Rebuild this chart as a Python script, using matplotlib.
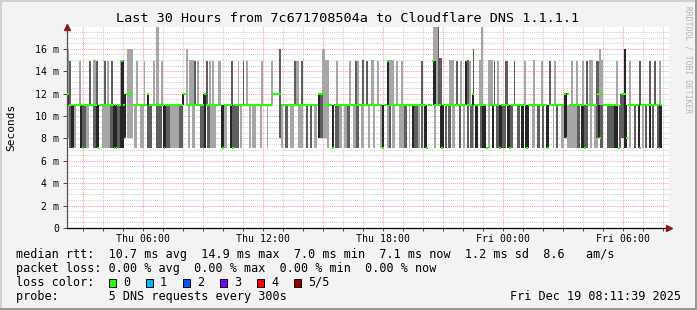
import matplotlib
matplotlib.use("Agg")
import matplotlib.pyplot as plt
from matplotlib.patches import Rectangle

plt.rcParams['font.family'] = 'DejaVu Sans Mono'

# time axis in minutes since Thu 00:00, values in ms
med_t = [133, 138, 150, 154, 177, 181, 223, 228, 273, 277,
         280, 284, 296, 301, 306, 311, 331, 373, 379, 423,
         428, 480, 493, 544, 549, 599, 604, 629, 634, 748,
         775, 886, 908, 929, 934, 1079, 1084, 1094, 1099, 1211,
         1216, 1229, 1234, 1256, 1261, 1329, 1334, 1348, 1353, 1390,
         1395, 1429, 1434, 1460, 1465, 1511, 1516, 1574, 1579, 1623,
         1630, 1634, 1638, 1684, 1689, 1723, 1730, 1735, 1740, 1786,
         1791, 1796, 1810, 1815, 1849, 1854, 1908, 1913]
med_v = [12, 11, 7.1, 11, 7.1, 11, 7.1, 11, 7.1, 11,
         7.1, 11, 14.9, 11, 8, 12, 11, 12, 11, 7.1,
         11, 12, 11, 12, 11, 7.1, 11, 7.1, 11, 12,
         11, 12, 11, 7.1, 11, 7.1, 11, 14.9, 11, 7.1,
         11, 14.9, 11, 7.1, 11, 14.9, 11, 12, 11, 7.1,
         11, 7.1, 11, 7.1, 11, 7.1, 11, 7.1, 11, 12,
         8, 12, 11, 7.1, 11, 12, 8, 12, 11, 7.1,
         11, 12, 8, 11, 7.1, 11, 7.1, 11]
med_end = 1918

# smoke above / around the median: start, end, low, high, shade
smoke_up = [
    (135, 138, 8, 16, 'L'), (133, 139, 11, 12, 'D'), (140, 145, 7.1, 14.9, 'M'),
    (170, 175, 11, 14.9, 'L'), (198, 204, 11, 14.9, 'M'), (211, 219, 11, 15, 'L'),
    (219, 225, 11, 14.9, 'M'), (244, 250, 11, 14.9, 'M'), (253, 258, 11, 14.9, 'L'),
    (265, 271, 11, 14.9, 'M'), (292, 304, 7.1, 15, 'L'), (294, 303, 7.1, 14.9, 'D'),
    (304, 310, 8, 12, 'D'), (314, 331, 8, 16, 'L'), (340, 346, 11, 14.9, 'L'),
    (364, 368, 11, 14.9, 'L'), (374, 379, 11, 12, 'D'), (390, 396, 11, 14.9, 'L'),
    (399, 409, 7.1, 18, 'L'), (414, 420, 11, 14.9, 'L'), (478, 484, 11, 12, 'D'),
    (490, 496, 11, 16, 'L'), (498, 514, 11, 15, 'L'), (514, 520, 11, 14.9, 'M'),
    (523, 529, 11, 14.9, 'L'), (542, 549, 11, 12, 'D'), (550, 557, 11, 14.9, 'M'),
    (559, 565, 11, 14.9, 'L'), (568, 574, 11, 14.9, 'L'), (586, 595, 11, 14.9, 'L'),
    (625, 631, 11, 14.9, 'M'), (646, 650, 11, 14.9, 'L'), (660, 665, 11, 14.9, 'M'),
    (669, 675, 11, 14.9, 'L'), (715, 721, 11, 14.9, 'L'), (745, 751, 11, 14.9, 'L'),
    (768, 775, 8, 16, 'M'), (814, 820, 11, 14.9, 'M'), (820, 830, 11, 14.9, 'L'),
    (836, 842, 11, 14.9, 'M'), (886, 892, 8, 12, 'D'), (888, 901, 8, 12, 'M'),
    (899, 907, 8, 16, 'L'), (907, 919, 8, 15, 'L'), (940, 946, 11, 14.9, 'L'),
    (978, 984, 11, 14.9, 'L'), (996, 1002, 11, 14.9, 'M'), (1004, 1010, 11, 14.9, 'L'),
    (1018, 1024, 11, 15, 'M'), (1030, 1036, 11, 14.9, 'M'), (1046, 1054, 11, 15, 'L'),
    (1063, 1068, 11, 14.9, 'L'), (1094, 1098, 11, 14.9, 'D'), (1098, 1113, 11, 15, 'L'),
    (1121, 1126, 11, 14.9, 'L'), (1136, 1142, 11, 14.9, 'L'), (1196, 1202, 11, 14.9, 'M'),
    (1231, 1248, 11, 18, 'L'), (1231, 1240, 11, 14.9, 'D'), (1246, 1250, 11, 18, 'M'),
    (1250, 1258, 11, 15.2, 'M'), (1280, 1294, 11, 15, 'L'), (1300, 1306, 11, 14.9, 'M'),
    (1313, 1318, 11, 14.9, 'L'), (1326, 1333, 11, 14.9, 'D'), (1333, 1340, 11, 15, 'M'),
    (1340, 1346, 11, 14.9, 'L'), (1348, 1354, 11, 12, 'D'), (1351, 1355, 11, 16, 'M'),
    (1368, 1382, 11, 15, 'L'), (1376, 1380, 11, 18, 'L'), (1396, 1410, 11, 15, 'L'),
    (1413, 1418, 11, 14.9, 'M'), (1423, 1429, 11, 14.9, 'L'), (1448, 1456, 11, 14.9, 'M'),
    (1473, 1478, 11, 14.9, 'M'), (1504, 1510, 11, 14.9, 'L'), (1530, 1538, 11, 15, 'L'),
    (1554, 1560, 11, 14.9, 'L'), (1578, 1584, 11, 14.9, 'M'), (1593, 1599, 11, 14.9, 'L'),
    (1623, 1633, 8, 12.1, 'D'), (1644, 1650, 11, 14.9, 'L'), (1660, 1666, 11, 14.9, 'L'),
    (1678, 1684, 11, 14.9, 'L'), (1690, 1696, 11, 14.9, 'M'), (1698, 1712, 11, 15, 'L'),
    (1721, 1728, 8, 14.9, 'M'), (1725, 1733, 8, 11, 'D'), (1728, 1734, 11, 16, 'L'),
    (1734, 1740, 11, 15, 'L'), (1780, 1786, 11, 14.9, 'L'), (1793, 1803, 8, 12, 'M'),
    (1803, 1810, 8, 16, 'D'), (1818, 1824, 11, 14.9, 'L'), (1848, 1854, 11, 14.9, 'M'),
    (1878, 1884, 11, 14.9, 'M'), (1893, 1900, 11, 14.9, 'M'), (1908, 1914, 11, 14.9, 'L'),
]

# smoke below the median (7.1 .. 11 ms): start, end, shade
smoke_lo = [
    (133, 136, 'L'), (138, 141, 'L'), (145, 153, 'D'), (155, 159, 'L'), (173, 179, 'D'),
    (179, 189, 'M'), (189, 199, 'L'), (211, 219, 'M'), (221, 229, 'D'), (239, 261, 'L'),
    (261, 271, 'M'), (271, 277, 'D'), (277, 283, 'D'), (283, 291, 'M'), (291, 303, 'D'),
    (335, 343, 'L'), (353, 363, 'L'), (373, 379, 'M'), (379, 389, 'M'), (399, 419, 'M'),
    (421, 429, 'D'), (429, 443, 'M'), (443, 468, 'L'), (468, 481, 'M'), (495, 503, 'L'),
    (509, 518, 'L'), (533, 545, 'M'), (545, 551, 'D'), (553, 563, 'M'), (563, 581, 'L'),
    (595, 603, 'D'), (603, 613, 'L'), (621, 629, 'D'), (629, 637, 'M'), (638, 648, 'M'),
    (651, 658, 'L'), (678, 685, 'L'), (689, 699, 'L'), (711, 717, 'L'), (733, 737, 'L'),
    (775, 781, 'L'), (788, 797, 'M'), (803, 813, 'L'), (825, 841, 'L'), (849, 857, 'M'),
    (861, 869, 'M'), (873, 883, 'L'), (913, 919, 'L'), (928, 935, 'D'), (938, 948, 'M'),
    (948, 958, 'L'), (963, 973, 'L'), (973, 983, 'M'), (991, 1001, 'L'), (1001, 1009, 'M'),
    (1015, 1025, 'L'), (1037, 1043, 'L'), (1051, 1057, 'L'), (1073, 1079, 'L'), (1078, 1083, 'D'),
    (1093, 1099, 'L'), (1099, 1105, 'M'), (1108, 1117, 'L'), (1128, 1143, 'L'), (1143, 1153, 'M'),
    (1158, 1163, 'L'), (1169, 1175, 'D'), (1175, 1185, 'M'), (1185, 1191, 'L'), (1195, 1201, 'M'),
    (1205, 1213, 'D'), (1233, 1239, 'L'), (1251, 1263, 'D'), (1268, 1273, 'M'), (1277, 1285, 'M'),
    (1288, 1298, 'L'), (1308, 1315, 'M'), (1321, 1327, 'L'), (1333, 1338, 'M'), (1341, 1351, 'M'),
    (1351, 1355, 'L'), (1358, 1365, 'D'), (1371, 1379, 'M'), (1378, 1391, 'D'), (1395, 1401, 'L'),
    (1408, 1415, 'D'), (1419, 1429, 'M'), (1429, 1438, 'D'), (1438, 1451, 'M'), (1453, 1463, 'D'),
    (1463, 1471, 'M'), (1483, 1491, 'M'), (1495, 1503, 'D'), (1508, 1518, 'D'), (1529, 1537, 'L'),
    (1543, 1551, 'M'), (1558, 1565, 'M'), (1571, 1578, 'D'), (1591, 1595, 'L'), (1601, 1607, 'M'),
    (1615, 1623, 'L'), (1633, 1663, 'L'), (1663, 1673, 'M'), (1675, 1685, 'D'), (1685, 1695, 'M'),
    (1701, 1708, 'L'), (1715, 1725, 'L'), (1733, 1741, 'M'), (1753, 1761, 'M'), (1761, 1773, 'M'),
    (1773, 1785, 'D'), (1788, 1795, 'M'), (1803, 1813, 'D'), (1818, 1825, 'L'), (1833, 1841, 'M'),
    (1845, 1853, 'D'), (1857, 1863, 'L'), (1868, 1873, 'M'), (1878, 1885, 'D'), (1889, 1895, 'M'),
    (1903, 1909, 'M'), (1909, 1918, 'D'),
]

xtick_pos = [360, 720, 1080, 1440, 1800]
xtick_lab = ['Thu 06:00', 'Thu 12:00', 'Thu 18:00', 'Fri 00:00', 'Fri 06:00']
ytick_pos = [0, 2, 4, 6, 8, 10, 12, 14, 16]

loss_labels = ['0', '1', '2', '3', '4', '5/5']
loss_colors = ['#26ff00', '#00b8ff', '#0059ff', '#7e00ff', '#ff0000', '#a10000']

shade_col = {'L': '#a6a6a6', 'M': '#5e5e5e', 'D': '#262626'}

W, H = 697, 310
fig = plt.figure(figsize=(W / 100, H / 100), dpi=100, facecolor='#f3f3f3')

def px(x, y):
    return x / W, 1 - y / H

# frame
fig.add_artist(Rectangle((0, 1 - 2 / H), 1, 2 / H, transform=fig.transFigure, color='#d0d0d0', lw=0))
fig.add_artist(Rectangle((0, 0), 2 / W, 1, transform=fig.transFigure, color='#d0d0d0', lw=0))
fig.add_artist(Rectangle((0, 0), 1, 2 / H, transform=fig.transFigure, color='#9a9a9a', lw=0))
fig.add_artist(Rectangle((1 - 2 / W, 0), 2 / W, 1, transform=fig.transFigure, color='#9a9a9a', lw=0))

ax = fig.add_axes([67 / W, 1 - 228 / H, 602 / W, 201 / H])
ax.set_facecolor('white')
ax.set_xlim(133, 1939)
ax.set_ylim(0, 17.95)

# grid, drawn by hand like rrdtool
for m in range(180, 1939, 60):
    c = '#ff9d9d' if m % 180 == 0 else '#cfcfcf'
    ax.axvline(m, color=c, lw=0.75, ls=(0, (1, 1)), zorder=0)
for k in range(1, 36):
    y = k * 0.5
    c = '#ff9d9d' if k % 4 == 0 else '#cfcfcf'
    ax.axhline(y, color=c, lw=0.75, ls=(0, (1, 1)), zorder=0)

# smoke
for shade in ['L', 'M', 'D']:
    for t0, t1, lo, hi, s in smoke_up:
        if s == shade:
            ax.bar(t0, hi - lo, width=t1 - t0, bottom=lo, align='edge',
                   color=shade_col[s], lw=0, zorder=1)
    for t0, t1, s in smoke_lo:
        if s == shade:
            ax.bar(t0, 11 - 7.1, width=t1 - t0, bottom=7.1, align='edge',
                   color=shade_col[s], lw=0, zorder=1)

# median rtt
seg_end = med_t[1:] + [med_end]
ax.hlines(med_v, med_t, seg_end, color='#26ff00', lw=1.5, zorder=3)

for s in ['top', 'right']:
    ax.spines[s].set_visible(False)
ax.spines['left'].set_color('#555555')
ax.spines['bottom'].set_color('black')
ax.spines['left'].set_linewidth(0.9)
ax.spines['bottom'].set_linewidth(0.9)
ax.plot([0], [1.0], marker='^', color='#8b1a1a', ms=5, transform=ax.transAxes, clip_on=False, zorder=5)
ax.plot([1.0], [0], marker='>', color='#8b1a1a', ms=5, transform=ax.transAxes, clip_on=False, zorder=5)

ax.set_xticks(xtick_pos)
ax.set_xticklabels(xtick_lab, fontsize=7.1)
ax.set_xticks(range(180, 1939, 60), minor=True)
ax.set_yticks(ytick_pos)
ax.set_yticklabels(['0' if v == 0 else f'{v} m' for v in ytick_pos], fontsize=7.1)
ax.tick_params(axis='x', which='both', length=2, width=0.7, pad=2.2, color='#444444')
ax.tick_params(axis='y', which='major', length=3, width=0.7, pad=2.5, color='#444444')

# texts
fig.text(*px(348, 19), 'Last 30 Hours from 7c671708504a to Cloudflare DNS 1.1.1.1',
         ha='center', va='center', fontsize=9.7)
fig.text(*px(11, 127), 'Seconds', rotation=90, ha='center', va='center', fontsize=8)
fig.text(*px(688, 60), 'RRDTOOL / TOBI OETIKER', rotation=270, ha='center', va='center',
         fontsize=5.8, color='#b4b4b4')

fs = 8.5
rows = [
    'median rtt:  10.7 ms avg  14.9 ms max  7.0 ms min  7.1 ms now  1.2 ms sd  8.6   am/s',
    'packet loss: 0.00 % avg  0.00 % max  0.00 % min  0.00 % now',
    'loss color:',
    'probe:       5 DNS requests every 300s',
]
for i, r in enumerate(rows):
    fig.text(*px(15.5, 254.3 + i * 14), r, ha='left', va='center', fontsize=fs)

for i, (lab, col) in enumerate(zip(loss_labels, loss_colors)):
    x0 = 108.5 + i * 37
    fig.add_artist(Rectangle(px(x0, 286.5), 7.5 / W, 8 / H, transform=fig.transFigure,
                             facecolor=col, edgecolor='black', lw=0.7))
    fig.text(*px(x0 + 14.5, 282.3), lab, ha='left', va='center', fontsize=fs)

fig.text(*px(681, 296), 'Fri Dec 19 08:11:39 2025', ha='right', va='center', fontsize=fs)

fig.savefig('out.png', dpi=100, facecolor=fig.get_facecolor())
